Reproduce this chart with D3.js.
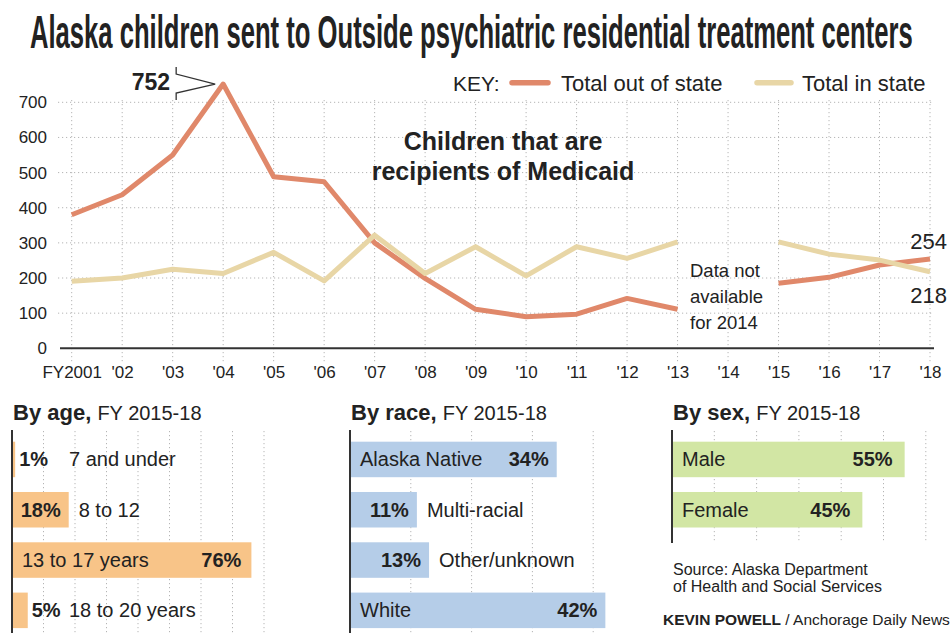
<!DOCTYPE html>
<html>
<head>
<meta charset="utf-8">
<script src="https://cdn.jsdelivr.net/npm/d3@7"></script>
<style>
  html, body { margin: 0; padding: 0; background: #fff; }
  svg { display: block; }
  text { font-family: "Liberation Sans", Arial, sans-serif; fill: #222; }
</style>
</head>
<body>
<svg id="chart" width="951" height="633"></svg>
<script>
// ---------- DATA ----------
const years = [2001, 2002, 2003, 2004, 2005, 2006, 2007, 2008, 2009, 2010, 2011, 2012, 2013, 2014, 2015, 2016, 2017, 2018];
const yearLabels = ["FY2001", "'02", "'03", "'04", "'05", "'06", "'07", "'08", "'09", "'10", "'11", "'12", "'13", "'14", "'15", "'16", "'17", "'18"];
const outOfState = [380, 437, 550, 752, 488, 474, 300, 199, 111, 90, 97, 142, 111, null, 185, 202, 237, 254];
const inState    = [191, 200, 225, 213, 273, 192, 322, 213, 289, 206, 289, 256, 303, null, 303, 268, 251, 218];
const yTicks = [0, 100, 200, 300, 400, 500, 600, 700];
const seriesNames = ["Total out of state", "Total in state"];

const ageCats = ["7 and under", "8 to 12", "13 to 17 years", "18 to 20 years"];
const ageVals = [1, 18, 76, 5];
const raceCats = ["Alaska Native", "Multi-racial", "Other/unknown", "White"];
const raceVals = [34, 11, 13, 42];
const sexCats = ["Male", "Female"];
const sexVals = [55, 45];

// ---------- SETUP ----------
const svg = d3.select("#chart");
const C_OUT = "#e0886a", C_IN = "#e8d6a6", GRID = "#b5b5b5";

// Title (horizontally compressed to mimic a condensed face)
const titleG = svg.append("g");
const title = titleG.append("text")
  .attr("x", 0).attr("y", 0)
  .attr("font-size", 46).attr("font-weight", "bold")
  .text("Alaska children sent to Outside psychiatric residential treatment centers");
const natural = title.node().getComputedTextLength();
titleG.attr("transform", `translate(30,48) scale(${883 / natural},1)`);

// ---------- LINE CHART ----------
const x = d3.scaleLinear().domain([2001, 2018]).range([71.7, 930]);
const y = d3.scaleLinear().domain([0, 700]).range([348.3, 102.3]);

const g = svg.append("g");

// horizontal grid
g.append("g").selectAll("line").data(yTicks.filter(d => d > 0)).join("line")
  .attr("x1", 58).attr("x2", 932)
  .attr("y1", d => y(d)).attr("y2", d => y(d))
  .attr("stroke", GRID).attr("stroke-width", 1).attr("stroke-dasharray", "1.2,2.8");
// vertical grid
g.append("g").selectAll("line").data(years).join("line")
  .attr("x1", d => x(d)).attr("x2", d => x(d))
  .attr("y1", 100).attr("y2", 362)
  .attr("stroke", GRID).attr("stroke-width", 1).attr("stroke-dasharray", "1.2,2.8");

// y axis labels
const yAxis = d3.axisLeft(y).tickValues(yTicks).tickSize(0).tickPadding(0).tickFormat(d3.format("d"));
const yG = g.append("g").attr("transform", "translate(47,0)").call(yAxis);
yG.select(".domain").remove();
yG.selectAll("text").attr("font-size", 17).attr("fill", "#333")
  .style("font-family", "'Liberation Sans',Arial,sans-serif");

// x axis labels
const xAxis = d3.axisBottom(x).tickValues(years).tickSize(0).tickPadding(0)
  .tickFormat((d, i) => yearLabels[i]);
const xG = g.append("g").attr("transform", "translate(0,366)").call(xAxis);
xG.select(".domain").remove();
xG.selectAll("text").attr("font-size", 17).attr("fill", "#333").attr("dy", "0.71em")
  .style("font-family", "'Liberation Sans',Arial,sans-serif");

// baseline
g.append("line").attr("x1", 60).attr("x2", 934).attr("y1", y(0)).attr("y2", y(0))
  .attr("stroke", "#333").attr("stroke-width", 2);

// lines
const lineGen = d3.line()
  .defined(d => d[1] != null)
  .x(d => x(d[0])).y(d => y(d[1]));
g.append("path").datum(years.map((yr, i) => [yr, outOfState[i]]))
  .attr("d", lineGen).attr("fill", "none").attr("stroke", C_OUT)
  .attr("stroke-width", 5).attr("stroke-linejoin", "round");
g.append("path").datum(years.map((yr, i) => [yr, inState[i]]))
  .attr("d", lineGen).attr("fill", "none").attr("stroke", C_IN)
  .attr("stroke-width", 5).attr("stroke-linejoin", "round");

// peak annotation 752
const peakIdx = outOfState.indexOf(d3.max(outOfState));
const px = x(years[peakIdx]), py = y(outOfState[peakIdx]);
g.append("text").attr("x", px - 53).attr("y", py + 6).attr("text-anchor", "end")
  .attr("font-size", 23).attr("font-weight", "bold").text(outOfState[peakIdx]);
g.append("path")
  .attr("d", `M${px - 47},${py - 17} L${px - 47},${py - 10} L${px - 8},${py} L${px - 47},${py + 9} L${px - 47},${py + 16}`)
  .attr("fill", "none").attr("stroke", "#333").attr("stroke-width", 1.3);

// end labels
const last = years.length - 1;
g.append("text").attr("x", 947).attr("y", y(outOfState[last]) - 10).attr("text-anchor", "end")
  .attr("font-size", 22).text(outOfState[last]);
g.append("text").attr("x", 947).attr("y", y(inState[last]) + 31).attr("text-anchor", "end")
  .attr("font-size", 22).text(inState[last]);

// Data not available
const note = g.append("text").attr("x", 690).attr("font-size", 18.5);
["Data not", "available", "for 2014"].forEach((t, i) => {
  note.append("tspan").attr("x", 690).attr("y", 277 + i * 25.8).text(t);
});

// Centre subtitle
const sub = g.append("text").attr("text-anchor", "middle").attr("font-size", 25).attr("font-weight", "bold");
sub.append("tspan").attr("x", 503).attr("y", 150).text("Children that are");
sub.append("tspan").attr("x", 503).attr("y", 180).text("recipients of Medicaid");

// Legend
const leg = svg.append("g");
leg.append("text").attr("x", 453).attr("y", 90.5).attr("font-size", 21).text("KEY:");
leg.append("line").attr("x1", 512).attr("x2", 548).attr("y1", 82.7).attr("y2", 82.7)
  .attr("stroke", C_OUT).attr("stroke-width", 5.5).attr("stroke-linecap", "round");
leg.append("text").attr("x", 561).attr("y", 90.5).attr("font-size", 22).text(seriesNames[0]);
leg.append("line").attr("x1", 757).attr("x2", 791).attr("y1", 82.7).attr("y2", 82.7)
  .attr("stroke", C_IN).attr("stroke-width", 5.5).attr("stroke-linecap", "round");
leg.append("text").attr("x", 802).attr("y", 90.5).attr("font-size", 22).text(seriesNames[1]);

// ---------- BAR PANELS ----------
function panel(opts) {
  const { left, pxPerPct, cats, vals, color, title, gridMax, axisBottom, minNameX, pctPadIn } = opts;
  const pg = svg.append("g");
  const xs = d3.scaleLinear().domain([0, 100]).range([left, left + pxPerPct * 100]);
  const ys = d3.scaleBand().domain(cats)
    .range([426.9, 426.9 + 50.3 * (cats.length + 0.294)]).padding(0.294);

  // header
  const h = pg.append("text").attr("x", left + 1).attr("y", 419.5);
  h.append("tspan").attr("font-size", 22).attr("font-weight", "bold").text(title + ", ");
  h.append("tspan").attr("font-size", 20).text("FY 2015-18");

  // grid
  pg.append("g").selectAll("line").data(d3.range(10, gridMax + 1, 10)).join("line")
    .attr("x1", d => xs(d)).attr("x2", d => xs(d))
    .attr("y1", 431).attr("y2", axisBottom)
    .attr("stroke", GRID).attr("stroke-width", 1).attr("stroke-dasharray", "1.2,2.8");

  // bars
  pg.append("g").selectAll("rect").data(cats).join("rect")
    .attr("x", left).attr("y", d => ys(d))
    .attr("width", (d, i) => xs(vals[i]) - left)
    .attr("height", ys.bandwidth())
    .attr("fill", color);

  // axis line
  pg.append("line").attr("x1", left).attr("x2", left).attr("y1", 430).attr("y2", axisBottom)
    .attr("stroke", "#333").attr("stroke-width", 2);

  // labels
  cats.forEach((c, i) => {
    const cy = ys(c) + ys.bandwidth() / 2;
    const end = xs(vals[i]);
    const w = end - left;
    const pct = pg.append("text").attr("y", cy).attr("dy", "0.35em")
      .attr("font-size", 20).attr("font-weight", "bold").text(vals[i] + "%");
    const name = pg.append("text").attr("y", cy).attr("dy", "0.35em")
      .attr("font-size", 20).text(c);
    const pw = pct.node().getComputedTextLength();
    const nw = name.node().getComputedTextLength();
    if (w > pw + nw + 30) {
      name.attr("x", left + 10);
      pct.attr("x", end - pctPadIn).attr("text-anchor", "end");
    } else if (w > pw + 14) {
      pct.attr("x", end - 8).attr("text-anchor", "end");
      name.attr("x", end + 10);
    } else {
      pct.attr("x", end + 4);
      name.attr("x", Math.max(end + 4 + pw + 8, minNameX || 0));
    }
  });
}

panel({ left: 12, pxPerPct: 3.15, cats: ageCats, vals: ageVals, color: "#f8c488",
  title: "By age", gridMax: 80, axisBottom: 633, minNameX: 69, pctPadIn: 10 });
panel({ left: 350, pxPerPct: 6.08, cats: raceCats, vals: raceVals, color: "#b5cde8",
  title: "By race", gridMax: 40, axisBottom: 633, pctPadIn: 8 });
panel({ left: 672, pxPerPct: 4.23, cats: sexCats, vals: sexVals, color: "#d2e6a4",
  title: "By sex", gridMax: 60, axisBottom: 543, pctPadIn: 12 });

// Source & credit
const src = svg.append("text").attr("font-size", 16).attr("fill", "#333");
src.append("tspan").attr("x", 673).attr("y", 575).text("Source: Alaska Department");
src.append("tspan").attr("x", 673).attr("y", 592).text("of Health and Social Services");
const cr = svg.append("text").attr("x", 663).attr("y", 625).attr("font-size", 15.5);
cr.append("tspan").attr("font-weight", "bold").text("KEVIN POWELL");
cr.append("tspan").text(" / Anchorage Daily News");
</script>
</body>
</html>
